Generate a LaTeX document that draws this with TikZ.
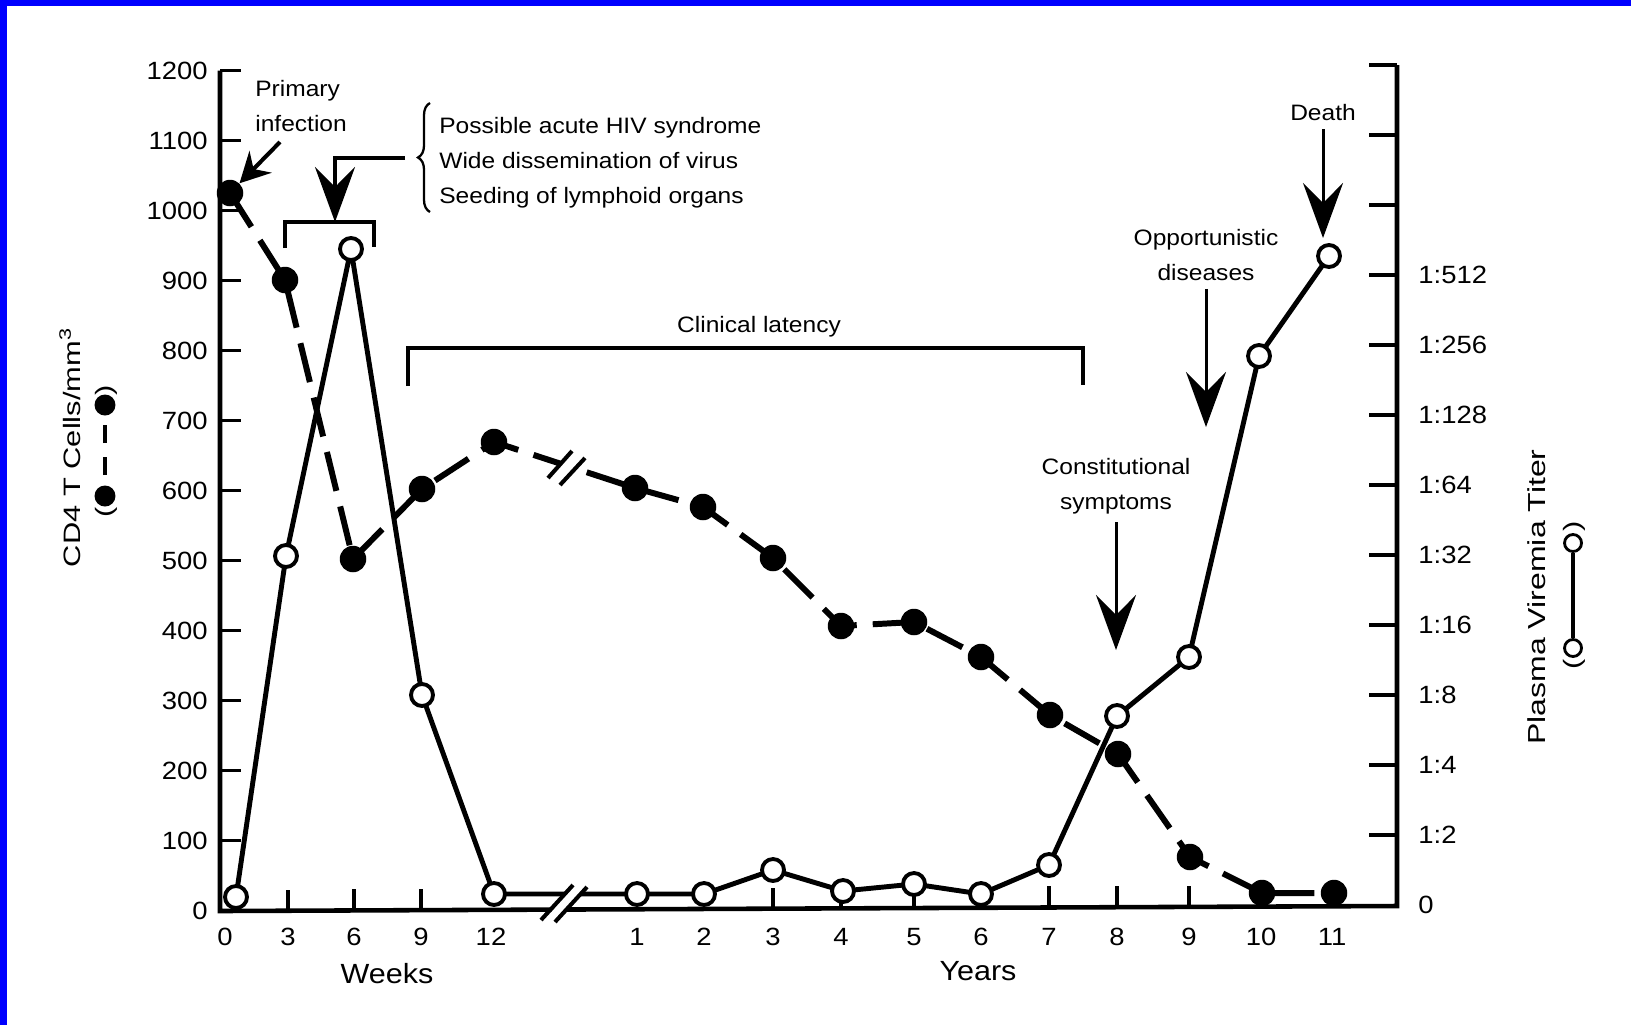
\documentclass[tikz,border=0pt]{standalone}
\usepackage{fontspec}
\setmainfont{Liberation Sans}[FakeStretch=1.1]
\newfontfamily\tallfont{Liberation Sans}[FakeStretch=1.3]
\usetikzlibrary{arrows.meta,backgrounds,decorations.pathreplacing}

\begin{document}
\begin{tikzpicture}[x=0.02cm, y=-0.02cm,
    cdot/.style={circle, fill, inner sep=0pt, minimum size=0.53cm},
    vdot/.style={circle, draw, fill=white, line width=2.2pt, inner sep=0pt, minimum size=0.44cm},
    legcdot/.style={circle, fill, inner sep=0pt, minimum size=0.42cm},
    legvdot/.style={circle, draw, fill=white, line width=1.6pt, inner sep=0pt, minimum size=0.34cm},
    cdline/.style={line width=3.4pt, line join=round, dash pattern=on 0.8cm off 0.32cm},
    vline/.style={line width=2.8pt, line join=round},
    axisline/.style={line width=2.6pt},
    axtick/.style={line width=1.8pt},
    brackline/.style={line width=2.3pt},
    breakmark/.style={line width=2.3pt},
    note/.style={font=\fontsize{12.7}{19.9}\selectfont, inner sep=0.15cm},
    ticklab/.style={font=\fontsize{14.2}{17}\selectfont, inner sep=0pt},
    bigarrow/.style={line width=1.7pt, -{Stealth[length=1.1cm, width=0.8cm, inset=0.4cm]}}]
    \useasboundingbox (0,0) rectangle (1631,1025);

    \begin{scope}[on background layer]
      \fill[white] (0,0) rectangle (1631,1025);
      \fill[blue] (0,0) rectangle (1631,6);
      \fill[blue] (0,0) rectangle (7,1025);
      \draw[axisline] (220,70.7) -- (220,911) -- (1397,906) -- (1397,65);
      \foreach \k in {1,...,12}
        \draw[axtick] (220,910.7-70*\k) -- (241,910.7-70*\k);
      \foreach \k in {1,...,12}
        \draw[axtick] (1397,905-70*\k) -- (1369,905-70*\k);
      \foreach \x in {288, 354, 421, 773, 841, 914, 981, 1049, 1117, 1189}
        \draw[axtick] (\x,{911-0.00425*(\x-220)}) -- ++(0,-21);
    \end{scope}

    \foreach \k in {0,...,12}
      \node[ticklab, anchor=east] (ly\k) at (208,910.7-70*\k) {\the\numexpr100*\k\relax};
    \foreach \k/\t in {0/0, 1/1:2, 2/1:4, 3/1:8, 4/1:16, 5/1:32, 6/1:64, 7/1:128, 8/1:256, 9/1:512}
      \node[ticklab, anchor=west] (ry\k) at (1418,905-70*\k) {\t};
    \foreach \x/\t [count=\i] in {225/0, 288/3, 354/6, 421/9, 491/12, 637/1, 704/2, 773/3,
        841/4, 914/5, 981/6, 1049/7, 1117/8, 1189/9, 1261/10, 1332/11}
      \node[ticklab] (xl\i) at (\x,937) {\t};

    \node[font=\fontsize{15.8}{19}\selectfont, inner sep=0pt] (weeks) at (387,974) {Weeks};
    \node[font=\fontsize{15.8}{19}\selectfont, inner sep=0pt] (years) at (978,971) {Years};
    \node[rotate=90, anchor=base, inner sep=0pt, font=\tallfont\fontsize{13.5}{16}\selectfont]
      (cdtitle) at (80,447.5) {CD4 T Cells/mm\textsuperscript{3}};
    \node[rotate=90, anchor=base, inner sep=0pt, font=\tallfont\fontsize{14}{16}\selectfont]
      (vtitle) at (1545,597) {Plasma Viremia Titer};

    \node[legcdot] (lc1) at (105,496) {};
    \node[legcdot] (lc2) at (105,405) {};
    \node[rotate=90, inner sep=0pt, font=\tallfont\fontsize{13.5}{16}\selectfont] (lcl) at (106,512) {(};
    \node[rotate=90, inner sep=0pt, font=\tallfont\fontsize{13.5}{16}\selectfont] (lcr) at (106,390) {)};
    \draw[line width=2.6pt, dash pattern=on 0.36cm off 0.28cm, dash phase=0.44cm] (lc1) -- (lc2);
    \node[legvdot] (lv1) at (1573,648) {};
    \node[legvdot] (lv2) at (1573,543) {};
    \node[rotate=90, inner sep=0pt, font=\tallfont\fontsize{13.5}{16}\selectfont] (lvl) at (1574,664) {(};
    \node[rotate=90, inner sep=0pt, font=\tallfont\fontsize{13.5}{16}\selectfont] (lvr) at (1574,526) {)};
    \draw[line width=1.8pt] (lv1) -- (lv2);

    \node[cdot] (cw0) at (230,193) {};
    \node[cdot] (cw3) at (285,280) {};
    \node[cdot] (cw6) at (353,559) {};
    \node[cdot] (cw9) at (422,489) {};
    \node[cdot] (cw12) at (494,442) {};
    \node[cdot] (cy1) at (635,488) {};
    \node[cdot] (cy2) at (703,507) {};
    \node[cdot] (cy3) at (773,558) {};
    \node[cdot] (cy4) at (841,626) {};
    \node[cdot] (cy5) at (914,622) {};
    \node[cdot] (cy6) at (981,657) {};
    \node[cdot] (cy7) at (1050,715) {};
    \node[cdot] (cy8) at (1118,754) {};
    \node[cdot] (cy9) at (1190,857) {};
    \node[cdot] (cy10) at (1262,893) {};
    \node[cdot] (cy11) at (1334,893) {};

    \node[vdot] (vw0) at (236,897) {};
    \node[vdot] (vw3) at (286,556) {};
    \node[vdot] (vw6) at (351,249) {};
    \node[vdot] (vw9) at (422,695) {};
    \node[vdot] (vw12) at (494,894) {};
    \node[vdot] (vy1) at (637,894) {};
    \node[vdot] (vy2) at (704,894) {};
    \node[vdot] (vy3) at (773,870) {};
    \node[vdot] (vy4) at (843,891) {};
    \node[vdot] (vy5) at (914,884) {};
    \node[vdot] (vy6) at (981,894) {};
    \node[vdot] (vy7) at (1049,865) {};
    \node[vdot] (vy8) at (1117,716) {};
    \node[vdot] (vy9) at (1189,657) {};
    \node[vdot] (vy10) at (1259,356) {};
    \node[vdot] (vy11) at (1329,256) {};

    \begin{scope}[on background layer]
      \draw[cdline] (cw0.center) -- (cw3.center) -- (cw6.center) -- (cw9.center)
        -- (cw12.center) -- (cy1.center) -- (cy2.center) -- (cy3.center)
        -- (cy4.center) -- (cy5.center) -- (cy6.center) -- (cy7.center)
        -- (cy8.center) -- (cy9.center) -- (cy10.center) -- (cy11.center);
      \draw[vline] (vw0.center) -- (vw3.center) -- (vw6.center) -- (vw9.center)
        -- (vw12.center) -- (vy1.center) -- (vy2.center) -- (vy3.center)
        -- (vy4.center) -- (vy5.center) -- (vy6.center) -- (vy7.center)
        -- (vy8.center) -- (vy9.center) -- (vy10.center) -- (vy11.center);
    \end{scope}

    \fill[white] (552,476) -- (573,452) -- (582,458) -- (561,482) -- cycle;
    \draw[breakmark] (548,478) -- (572,451);
    \draw[breakmark] (560,485) -- (585,458);
    \fill[white] (544,920) -- (575,885) -- (585,887) -- (553,922) -- cycle;
    \draw[breakmark] (541,920) -- (573,885);
    \draw[breakmark] (555,922) -- (587,887);

    \node[note, anchor=west, align=left] (primary) at (247.5,106.4) {Primary\\infection};
    \node[note, anchor=west, align=left] (acute) at (431.5,162.3)
      {Possible acute HIV syndrome\\Wide dissemination of virus\\Seeding of lymphoid organs};
    \node[note] (latency) at (759,326.3) {Clinical latency};
    \node[note, align=center] (constit) at (1116,486.4) {Constitutional\\symptoms};
    \node[note, align=center] (opport) at (1206,255.4) {Opportunistic\\diseases};
    \node[note] (death) at (1323,113) {Death};

    \coordinate (pritail) at (280,142);
    \coordinate (hook) at (405,158);
    \coordinate (acutetop) at (335,222);
    \coordinate (constip) at (1116,650);
    \coordinate (opportip) at (1206,427);
    \coordinate (deathtip) at (1323,238);

    \draw[line width=2.3pt, -{Stealth[length=0.6cm, width=0.62cm, inset=0.2cm]}]
      (pritail) -- (cw0);
    \draw[bigarrow, line width=2.3pt] (hook) -| (acutetop);
    \draw[brackline] (285,248) |- (374,222) -- (374,247);
    \draw[line width=1.3pt, decorate, decoration={brace, amplitude=0.24cm}]
      (430,212) -- (430,103);
    \draw[brackline] (408,386) |- (1083,348) -- (1083,385);
    \draw[bigarrow] (constit) -- (constip);
    \draw[bigarrow] (opport) -- (opportip);
    \draw[bigarrow] (death) -- (deathtip);
  \end{tikzpicture}
\end{document}
